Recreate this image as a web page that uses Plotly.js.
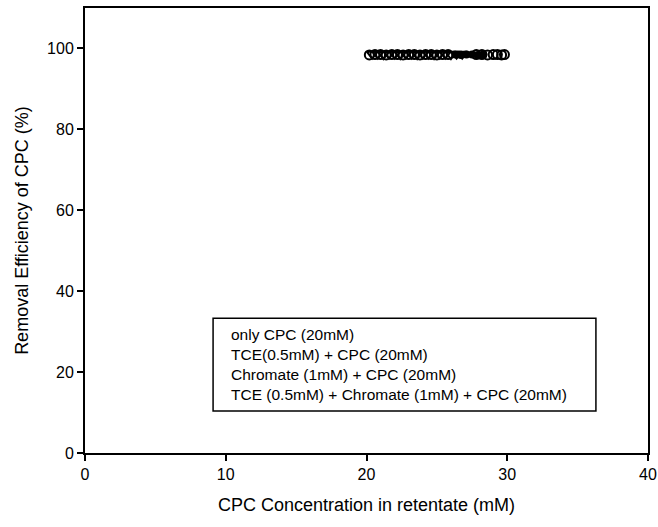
<!DOCTYPE html>
<html><head><meta charset="utf-8">
<script src="https://cdn.plot.ly/plotly-3.0.1.min.js"></script>
<style>body{margin:0;background:#fff}#c{width:658px;height:527px}</style>
</head><body><div id="c"></div>
<script>
const seriesNames = ["only CPC (20mM)", "TCE(0.5mM) + CPC (20mM)", "Chromate (1mM) + CPC (20mM)", "TCE (0.5mM) + Chromate (1mM) + CPC (20mM)"];
const x1 = [20.2, 20.6, 21.0, 21.4, 21.8, 22.2, 22.6, 23.0, 23.4, 23.8, 24.2, 24.6, 25.0, 25.4, 25.8];
const y1 = [98.4, 98.5, 98.5, 98.4, 98.5, 98.5, 98.4, 98.5, 98.5, 98.4, 98.5, 98.5, 98.4, 98.5, 98.5];
const x2 = [20.4, 20.8, 21.2, 21.6, 22.0, 22.4, 22.8, 23.2, 23.6, 24.0, 24.4, 24.8, 25.2, 25.6, 26.0, 26.4, 26.8];
const y2 = [98.6, 98.6, 98.5, 98.6, 98.6, 98.5, 98.6, 98.6, 98.5, 98.6, 98.6, 98.5, 98.6, 98.6, 98.5, 98.6, 98.6];
const x3 = [26.3, 26.7, 27.1, 27.5, 27.9, 28.3];
const y3 = [98.5, 98.4, 98.5, 98.5, 98.4, 98.5];
const x4 = [27.8, 28.2, 28.6, 29.0, 29.3, 29.6, 29.8];
const y4 = [98.5, 98.5, 98.4, 98.5, 98.5, 98.4, 98.5];
const xTicks = [0, 10, 20, 30, 40];
const yTicks = [0, 20, 40, 60, 80, 100];

const blk = '#000';
const traces = [
  {x: x1, y: y1, name: seriesNames[0], mode: 'markers', type: 'scatter',
   marker: {symbol: 'circle-open', size: 9, color: blk, line: {width: 2, color: blk}}},
  {x: x2, y: y2, name: seriesNames[1], mode: 'markers', type: 'scatter',
   marker: {symbol: 'triangle-down-open', size: 9, color: blk, line: {width: 2, color: blk}}},
  {x: x3, y: y3, name: seriesNames[2], mode: 'markers', type: 'scatter',
   marker: {symbol: 'circle', size: 8, color: blk}},
  {x: x4, y: y4, name: seriesNames[3], mode: 'markers', type: 'scatter',
   marker: {symbol: 'circle-open', size: 9, color: blk, line: {width: 2, color: blk}}}
];

const font = {family: 'Liberation Sans, Arial, sans-serif', color: '#000'};
const layout = {
  width: 658, height: 527,
  margin: {l: 85, r: 10, t: 8, b: 74},
  paper_bgcolor: '#fff', plot_bgcolor: '#fff',
  showlegend: false,
  font: Object.assign({size: 16}, font),
  xaxis: {
    range: [0, 40], tickvals: xTicks, ticktext: xTicks.map(String),
    showgrid: false, zeroline: false, showline: true, linecolor: blk, linewidth: 2,
    mirror: true, ticks: 'outside', ticklen: 6, tickwidth: 1.5, tickcolor: blk,
    tickfont: Object.assign({size: 16}, font),
    title: {text: 'CPC Concentration in retentate (mM)', font: Object.assign({size: 18}, font), standoff: 16}
  },
  yaxis: {
    range: [0, 110], tickvals: yTicks, ticktext: yTicks.map(String),
    showgrid: false, zeroline: false, showline: true, linecolor: blk, linewidth: 2,
    mirror: true, ticks: 'outside', ticklen: 6, tickwidth: 1.5, tickcolor: blk,
    tickfont: Object.assign({size: 16}, font),
    title: {text: 'Removal Efficiency of CPC (%)', font: Object.assign({size: 18}, font), standoff: 14}
  },
  shapes: [{
    type: 'rect', xref: 'x', yref: 'y', x0: 9.1, x1: 36.3, y0: 10.4, y1: 33.3,
    line: {color: blk, width: 1.5}, fillcolor: 'rgba(0,0,0,0)'
  }],
  annotations: [{
    xref: 'x', yref: 'y', x: 10.25, y: 21.8, xanchor: 'left', yanchor: 'middle',
    showarrow: false, align: 'left',
    text: seriesNames.join('<br>'),
    font: Object.assign({size: 15.5}, font)
  }]
};
Plotly.newPlot('c', traces, layout, {displayModeBar: false});
</script></body></html>
